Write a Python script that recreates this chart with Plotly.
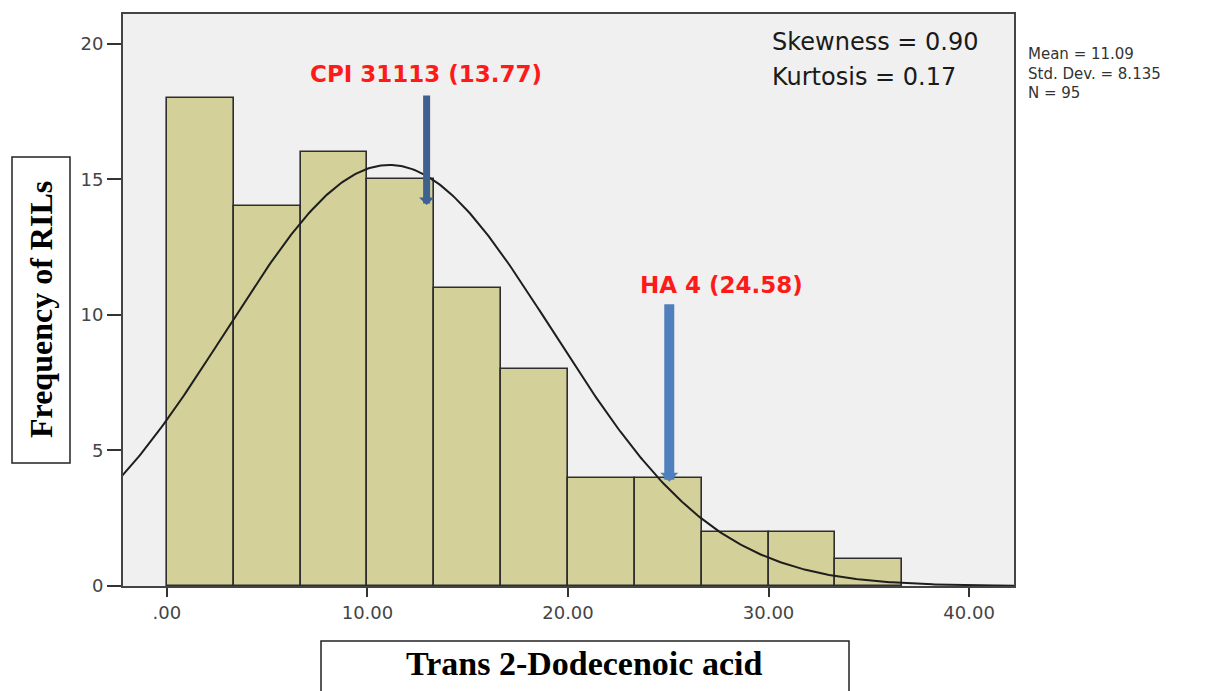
import numpy as np
import plotly.graph_objects as go

# ---------------- data ----------------
bin_edges = [0.0, 3.333, 6.667, 10.0, 13.333, 16.667, 20.0, 23.333, 26.667, 30.0, 33.333, 36.667]
frequencies = [18, 14, 16, 15, 11, 8, 4, 4, 2, 2, 1]
x_tick_vals = [0, 10, 20, 30, 40]
x_tick_text = [".00", "10.00", "20.00", "30.00", "40.00"]
y_tick_vals = [0, 5, 10, 15, 20]
mean_val = 11.09
sd_val = 8.135
n_val = 95
skewness = 0.90
kurtosis = 0.17
marker_labels = ["CPI 31113 (13.77)", "HA 4 (24.58)"]
marker_x = [12.95, 25.05]          # arrow x positions as drawn
marker_tip_y = [14.05, 3.85]
marker_tail_y = [18.15, 10.45]
marker_label_y = [18.9, 11.1]
marker_label_x = [12.9, 27.65]

# ---------------- layout geometry ----------------
OFF = 8  # page body margin
W, H = 1210 - OFF, 691 - OFF
L, T = 123 - OFF, 14 - OFF
pw, ph = 891, 572
R, B = W - L - pw, H - T - ph

def px(xp):
    return (xp - OFF - L) / pw

def py(yp):
    return (T + ph - (yp - OFF)) / ph

centers = [(bin_edges[i] + bin_edges[i + 1]) / 2 for i in range(len(frequencies))]
widths = [bin_edges[i + 1] - bin_edges[i] for i in range(len(frequencies))]
bw = float(np.mean(widths))

fig = go.Figure()
fig.add_trace(go.Bar(
    x=centers, y=frequencies, width=widths,
    marker=dict(color="#d4d09a", line=dict(color="#2e2e2e", width=1.6)),
    showlegend=False, hoverinfo="skip",
))

# normal curve from the reported mean / sd / N
xc = np.linspace(-2.3, 42.3, 400)
yc = n_val * bw / (sd_val * np.sqrt(2 * np.pi)) * np.exp(-0.5 * ((xc - mean_val) / sd_val) ** 2)
fig.add_trace(go.Scatter(x=xc, y=yc, mode="lines", line=dict(color="#1e1e1e", width=2),
                         showlegend=False, hoverinfo="skip"))

annotations = []
arrow_colors = ["#3d6290", "#4f80bd"]
arrow_widths = [7, 10]
arrow_sizes = [0.36, 0.3]
for i in range(len(marker_labels)):
    annotations.append(dict(
        x=marker_x[i], y=marker_tip_y[i], ax=marker_x[i], ay=marker_tail_y[i],
        xref="x", yref="y", axref="x", ayref="y",
        text="", showarrow=True, arrowhead=1, arrowsize=arrow_sizes[i],
        arrowwidth=arrow_widths[i], arrowcolor=arrow_colors[i], standoff=0, startstandoff=0,
    ))
    annotations.append(dict(
        x=marker_label_x[i], y=marker_label_y[i], xref="x", yref="y",
        text="<b>%s</b>" % marker_labels[i], showarrow=False,
        font=dict(family="DejaVu Sans", size=23, color="#ff1a1a"),
        xanchor="center", yanchor="middle",
    ))

# skewness / kurtosis
annotations.append(dict(x=px(770), y=py(42), xref="paper", yref="paper",
                        text="Skewness = %.2f" % skewness, showarrow=False,
                        xanchor="left", yanchor="middle",
                        font=dict(family="DejaVu Sans", size=24, color="#1a1a1a")))
annotations.append(dict(x=px(770), y=py(77), xref="paper", yref="paper",
                        text="Kurtosis = %.2f" % kurtosis, showarrow=False,
                        xanchor="left", yanchor="middle",
                        font=dict(family="DejaVu Sans", size=24, color="#1a1a1a")))

# stats block on the right
stats_text = "<br>".join(["Mean = %.2f" % mean_val, "Std. Dev. = %.3f" % sd_val, "N = %d" % n_val])
annotations.append(dict(x=px(1027), y=py(44), xref="paper", yref="paper",
                        text=stats_text, showarrow=False, xanchor="left", yanchor="top",
                        align="left", borderpad=0,
                        font=dict(family="DejaVu Sans", size=15, color="#333333")))

# axis titles in boxes
annotations.append(dict(x=px(41), y=py(310), xref="paper", yref="paper",
                        text="<b>Frequency of RILs</b>", showarrow=False, textangle=-90,
                        xanchor="center", yanchor="middle",
                        font=dict(family="Liberation Serif", size=32, color="#000000")))
annotations.append(dict(x=px(584), y=py(664), xref="paper", yref="paper",
                        text="<b>Trans 2-Dodecenoic acid</b>", showarrow=False,
                        xanchor="center", yanchor="middle",
                        font=dict(family="Liberation Serif", size=34, color="#000000")))

shapes = [
    dict(type="rect", xref="paper", yref="paper", x0=px(12), x1=px(70), y0=py(463), y1=py(157),
         line=dict(color="#222222", width=1.5), fillcolor="rgba(0,0,0,0)"),
    dict(type="rect", xref="paper", yref="paper", x0=px(321), x1=px(849), y0=py(720), y1=py(641),
         line=dict(color="#222222", width=1.5), fillcolor="rgba(0,0,0,0)"),
]

fig.update_layout(
    width=W, height=H,
    margin=dict(l=L, r=R, t=T, b=B, autoexpand=False),
    paper_bgcolor="#ffffff", plot_bgcolor="#f0f0f0",
    bargap=0, annotations=annotations, shapes=shapes,
    xaxis=dict(range=[-2.19, 42.24], tickvals=x_tick_vals, ticktext=x_tick_text,
               ticks="outside", ticklen=9, tickwidth=2, tickcolor="#333333",
               showgrid=False, zeroline=False, showline=True, linecolor="#444444",
               linewidth=2, mirror=True,
               tickfont=dict(family="DejaVu Sans", size=18, color="#444444")),
    yaxis=dict(range=[0, 21.1], tickvals=y_tick_vals,
               ticks="outside", ticklen=14, tickwidth=2, tickcolor="#333333",
               showgrid=False, zeroline=False, showline=True, linecolor="#444444",
               linewidth=2, mirror=True,
               tickfont=dict(family="DejaVu Sans", size=18, color="#444444")),
)

fig.write_html("out.html")
